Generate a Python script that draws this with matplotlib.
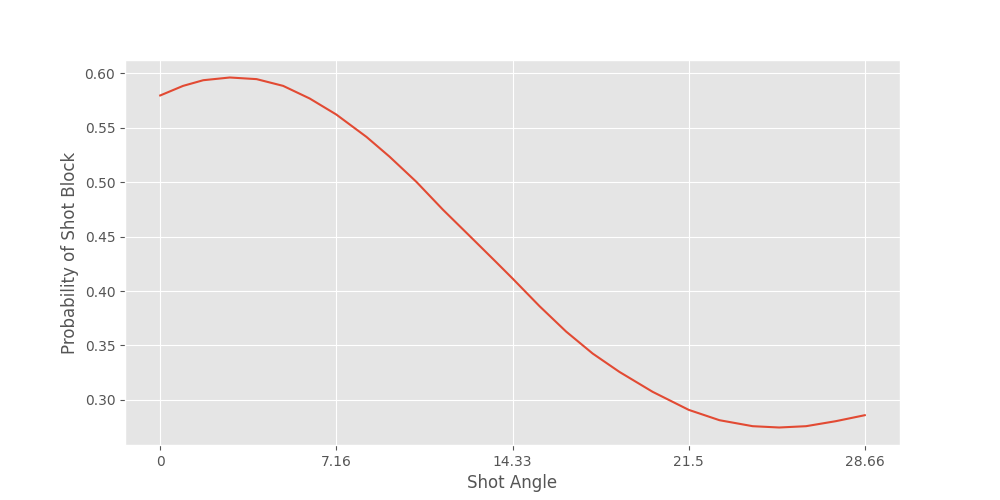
import matplotlib
matplotlib.use("Agg")
import matplotlib.pyplot as plt

plt.style.use("ggplot")

shot_angle = [0.0, 0.93, 1.75, 2.83, 3.92, 5.0, 6.08, 7.16, 8.39, 9.33, 10.42,
              11.5, 12.59, 13.67, 14.33, 15.43, 16.51, 17.59, 18.68, 20.03, 21.5,
              22.75, 24.1, 25.18, 26.27, 27.48, 28.66]
block_prob = [0.5798, 0.5886, 0.5938, 0.5963, 0.5948, 0.5886, 0.577, 0.5623, 0.5417,
              0.5235, 0.5004, 0.4748, 0.4506, 0.4265, 0.4116, 0.3861, 0.3628, 0.3426,
              0.3257, 0.3074, 0.2908, 0.2813, 0.2758, 0.2746, 0.2758, 0.2804, 0.2859]
tick_values = [0, 7.165, 14.33, 21.495, 28.66]
tick_labels = ["0", "7.16", "14.33", "21.5", "28.66"]

fig, ax = plt.subplots(figsize=(10, 5), dpi=100)
ax.plot(shot_angle, block_prob, color="#E24A33")
ax.set_xticks(tick_values)
ax.set_xticklabels(tick_labels)
ax.set_xlabel("Shot Angle")
ax.set_ylabel("Probability of Shot Block")
fig.savefig("out.png")
